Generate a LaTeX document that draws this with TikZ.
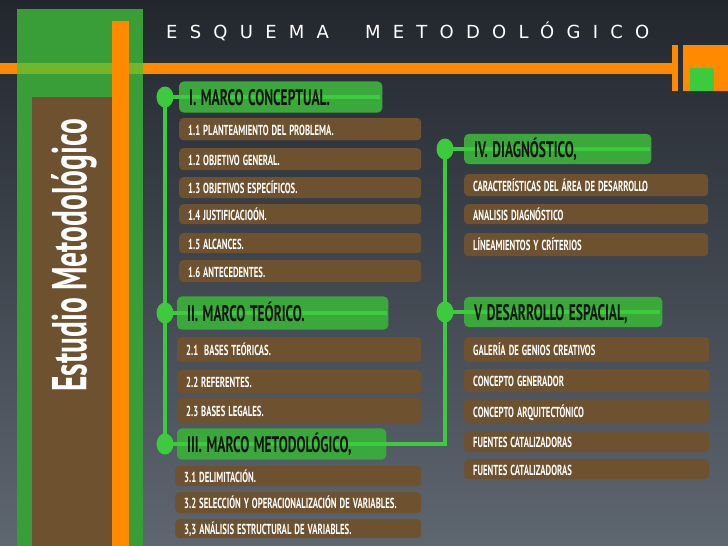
\documentclass[tikz,border=0pt]{standalone}
\usepackage{fontspec}
\newfontfamily\cond[FakeStretch=0.6]{PT Sans}
\newfontfamily\titlefont[LetterSpace=68]{DejaVu Sans}
\usetikzlibrary{shapes.geometric}
\definecolor{bgtop}{HTML}{22272E}
\definecolor{bgmid}{HTML}{2D333B}
\definecolor{bgbot}{HTML}{5E6670}
\definecolor{panelgreen}{HTML}{3A9E38}
\definecolor{lightgreen}{HTML}{74B52A}
\definecolor{orng}{HTML}{FF8A00}
\definecolor{brwn}{HTML}{6E5230}
\definecolor{hdrgreen}{HTML}{3AA83A}
\definecolor{linegreen}{HTML}{3CCB3C}
\definecolor{txtdark}{HTML}{141414}
\pgfdeclarelayer{back}
\pgfdeclarelayer{bg}
\pgfdeclarelayer{mid}
\pgfsetlayers{back,bg,mid,main}
\newcommand\hdrspace{\spaceskip=4.5pt\relax}
\newcommand\itemspace{\spaceskip=3pt\relax}
\tikzset{
  hdr/.style={anchor=west, text width=#1, align=left, inner xsep=10pt, inner ysep=0pt,
    text height=17pt, text depth=0pt, text=txtdark,
    font=\cond\bfseries\fontsize{22.5}{22.5}\selectfont,
    execute at begin node=\hdrspace},
  hdrbox/.style={fill=hdrgreen, rounded corners=5pt},
  item/.style={anchor=north west, text width=#1, align=left, inner xsep=9pt, inner ysep=0pt,
    text height=12pt, text depth=0pt, text=white, fill=brwn, rounded corners=4pt,
    font=\cond\bfseries\fontsize{14.5}{14.5}\selectfont,
    execute at begin node=\itemspace},
  dot/.style={ellipse, fill=linegreen, minimum width=17pt, minimum height=21pt, inner sep=0pt},
  vline/.style={draw=linegreen, line width=4.5pt},
  hline/.style={draw=linegreen, line width=4pt}
}
\begin{document}
\begin{tikzpicture}[x=1pt,y=-1pt]
\useasboundingbox (0,0) rectangle (728,546);
\begin{pgfonlayer}{back}
  \shade[top color=bgtop, middle color=bgmid, bottom color=bgbot] (0,0) rectangle (728,546);
  \fill[panelgreen] (17,9) rectangle (143,546);
  \fill[brwn] (32,97) rectangle (112,546);
  \fill[orng] (0,63) rectangle (672,74);
  \fill[lightgreen] (17,63) rectangle (143,74);
  \fill[orng] (112,21) rectangle (129,546);
  \fill[orng] (672,45) rectangle (678,91);
  \fill[orng] (683,45) rectangle (728,91);
  \fill[linegreen] (690,68) rectangle (714,91);
\end{pgfonlayer}

\node[rotate=90, text=white, font=\cond\bfseries\fontsize{49}{49}\selectfont] (vt) at (74,255) {Estudio Metodológico};
\node[anchor=base west, text=white, inner sep=0pt, font=\titlefont\fontsize{18}{18}\selectfont] (title) at (166,38) {ESQUEMA\hspace{36pt}METODOLÓGICO};

% headers
\node[hdr=183pt, minimum height=31pt] (h1) at (179,97) {I. MARCO CONCEPTUAL.};
\node[hdr=191pt, minimum height=33pt] (h2) at (177,313) {II. MARCO TEÓRICO.};
\node[hdr=189pt, minimum height=31pt] (h3) at (177,444) {III. MARCO METODOLÓGICO,};
\node[hdr=167pt, minimum height=30pt] (h4) at (464,149) {IV. DIAGNÓSTICO,};
\node[hdr=178pt, minimum height=30pt] (h5) at (464,312) {V DESARROLLO ESPACIAL,};
\begin{pgfonlayer}{bg}
  \foreach \h in {h1,h2,h3,h4,h5}{\path[hdrbox] (\h.north west) rectangle (\h.south east);}
\end{pgfonlayer}

% dots
\node[dot] (c1) at (165,97) {};
\node[dot] (c2) at (165,313) {};
\node[dot] (c3) at (165,444) {};
\node[dot] (c4) at (445,149) {};
\node[dot] (c5) at (445,312) {};

\begin{pgfonlayer}{mid}
  \draw[vline] (c1.center) -- (c3.center);
  \draw[vline] (c3.center) -| (c4.center);
  \draw[hline] (c1.center) -- ([xshift=-2pt]h1.east);
  \draw[hline] (c2.center) -- ([xshift=-1pt]h2.east);
  \draw[hline] (c4.center) -- ([xshift=-1pt]h4.east);
  \draw[hline] (c5.center) -- ([xshift=-2pt]h5.east);
\end{pgfonlayer}

% items I
\node[item=224pt, minimum height=22pt] (a11) at (179,118) {1.1 PLANTEAMIENTO DEL PROBLEMA.};
\node[item=224pt, minimum height=22pt] (a12) at (179,148) {1.2 OBJETIVO GENERAL.};
\node[item=224pt, minimum height=21pt] (a13) at (179,177) {1.3 OBJETIVOS ESPECÍFICOS.};
\node[item=224pt, minimum height=20pt] (a14) at (179,204) {1.4 JUSTIFICACIOÓN.};
\node[item=224pt, minimum height=20pt] (a15) at (179,233) {1.5 ALCANCES.};
\node[item=224pt, minimum height=22pt] (a16) at (179,260) {1.6 ANTECEDENTES.};
% items II
\node[item=226pt, minimum height=25pt] (a21) at (177,337) {2.1\ \ BASES TEÓRICAS.};
\node[item=226pt, minimum height=23pt] (a22) at (177,370) {2.2 REFERENTES.};
\node[item=226pt, minimum height=25pt] (a23) at (177,398) {2.3 BASES LEGALES.};
% items III
\node[item=228pt, minimum height=20pt] (a31) at (175,466) {3.1 DELIMITACIÓN.};
\node[item=228pt, minimum height=21pt] (a32) at (175,492) {3.2 SELECCIÓN Y OPERACIONALIZACIÓN DE VARIABLES.};
\node[item=228pt, minimum height=19pt] (a33) at (175,519) {3,3 ANÁLISIS ESTRUCTURAL DE VARIABLES.};
% items IV
\node[item=226pt, minimum height=22pt] (a41) at (464,174) {CARACTERÍSTICAS DEL ÁREA DE DESARROLLO};
\node[item=226pt, minimum height=20pt] (a42) at (464,204) {ANALISIS DIAGNÓSTICO};
\node[item=226pt, minimum height=23pt] (a43) at (464,233) {LÍNEAMIENTOS Y CRÍTERIOS};
% items V
\node[item=227pt, minimum height=25pt] (a51) at (464,337) {GALERÍA DE GENIOS CREATIVOS};
\node[item=227pt, minimum height=23pt] (a52) at (464,369) {CONCEPTO GENERADOR};
\node[item=227pt, minimum height=24pt] (a53) at (464,399) {CONCEPTO ARQUITECTÓNICO};
\node[item=227pt, minimum height=21pt] (a54) at (464,431) {FUENTES CATALIZADORAS};
\node[item=227pt, minimum height=20pt] (a55) at (464,459) {FUENTES CATALIZADORAS};
\end{tikzpicture}
\end{document}
